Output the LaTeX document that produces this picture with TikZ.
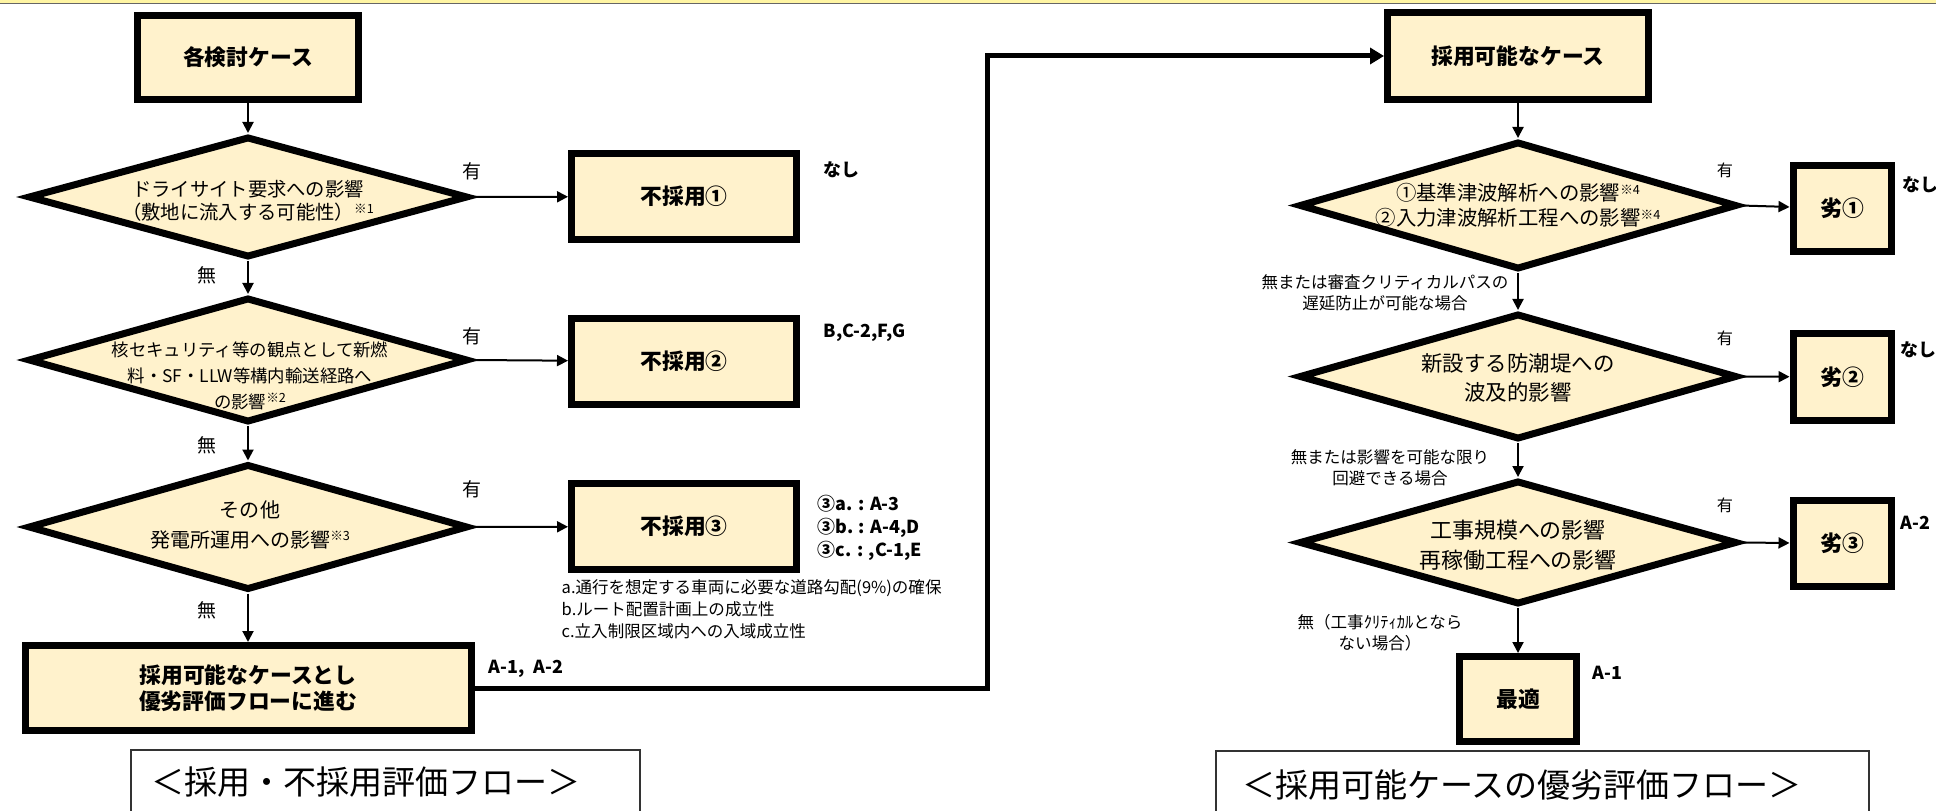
\documentclass[tikz,border=0pt]{standalone}
\usepackage{fontspec}
\setmainfont{Noto Sans CJK JP}
\usetikzlibrary{shapes.geometric,arrows.meta}
\definecolor{boxfill}{HTML}{FFF2CC}
\newcommand\chuki[1]{\raisebox{0.6ex}{\fontsize{3.6}{4}\selectfont ※#1}}

\begin{document}
\begin{tikzpicture}[x=0.1mm,y=-0.1mm,
  box/.style={draw,line width=0.7mm,fill=boxfill,inner sep=0pt,align=center,
    font=\bfseries\fontsize{6.2}{7.4}\selectfont},
  judge/.style={diamond,draw,line width=0.7mm,fill=boxfill,inner sep=0pt,minimum width=44mm},
  flow/.style={line width=0.2mm,-{Triangle[length=1.1mm,width=1.1mm]}},
  yes/.style={font=\fontsize{5.4}{6}\selectfont},
  memo/.style={anchor=west,align=left,inner sep=0pt,font=\bfseries\fontsize{5.1}{6.5}\selectfont},
  cond/.style={align=center,inner sep=0pt,font=\fontsize{4.7}{6}\selectfont},
  frame/.style={draw=black!80,line width=0.2mm}]
\useasboundingbox (0,0) rectangle (1936,811);

% top band
\fill[boxfill!80!yellow] (0,0) rectangle (1936,3);
\draw[black!60,line width=0.15mm] (0,3.5) -- (1936,3.5);

% left flow
\node[box,minimum width=22.1mm,minimum height=8.4mm] (case) at (248,57.5) {各検討ケース};
\node[judge,minimum height=12.1mm] (q1) at (248,197) {};
\node[align=center,font=\fontsize{5.5}{6.5}\selectfont] (q1t) at (248,201)
  {ドライサイト要求への影響\\（敷地に流入する可能性）\chuki{1}};
\node[judge,minimum height=12.5mm] (q2) at (248,360) {};
\node[align=center,font=\fontsize{4.95}{7.4}\selectfont] (q2t) at (250,376)
  {核セキュリティ等の観点として新燃\\料・SF・LLW等構内輸送経路へ\\の影響\chuki{2}};
\node[judge,minimum height=12.6mm] (q3) at (248,527) {};
\node[align=center,font=\fontsize{5.7}{8.5}\selectfont] (q3t) at (250,525)
  {その他\\発電所運用への影響\chuki{3}};
\node[box,minimum width=44.6mm,minimum height=8.5mm] (adopt) at (248,688)
  {採用可能なケースとし\\優劣評価フローに進む};

\node[box,minimum width=22.5mm,minimum height=8.6mm] (rej1) at (684,196.5) {不採用①};
\node[box,minimum width=22.5mm,minimum height=8.6mm] (rej2) at (684,361.5) {不採用②};
\node[box,minimum width=22.5mm,minimum height=8.6mm] (rej3) at (684,526.5) {不採用③};

\draw[flow] (case) -- (q1);
\draw[flow] (q1) -- (q2);
\draw[flow] (q2) -- (q3);
\draw[flow] (q3) -- (adopt);
\draw[flow] (q1.east) -- (rej1);
\draw[flow] (q2.east) -- (rej2);
\draw[flow] (q3.east) -- (rej3);

\node[yes] (y1) at (472,171) {有};
\node[yes] (y2) at (472,336) {有};
\node[yes] (y3) at (472,489) {有};
\node[yes] (n1) at (207,275) {無};
\node[yes] (n2) at (207,445) {無};
\node[yes] (n3) at (207,610) {無};

\node[memo] (m1) at (823,170) {なし};
\node[memo] (m2) at (823,333) {B,C-2,F,G};
\node[memo] (m3) at (817,528) {③a. : A-3\\③b. : A-4,D\\③c. : ,C-1,E};
\node[memo,font=\fontsize{4.7}{6.3}\selectfont] (abc) at (561,609)
  {a.通行を想定する車両に必要な道路勾配(9\%)の確保\\b.ルート配置計画上の成立性\\c.立入制限区域内への入域成立性};
\node[memo] (m4) at (488,669) {A-1,\enspace A-2};

% right flow
\node[box,minimum width=26.1mm,minimum height=8.7mm] (cands) at (1518,56) {採用可能なケース};
\node[judge,minimum width=43.8mm,minimum height=12.8mm] (r1) at (1518,205.5) {};
\node[align=center,font=\fontsize{5.8}{7.1}\selectfont] (r1t) at (1518,205.5)
  {①基準津波解析への影響\chuki{4}\\②入力津波解析工程への影響\chuki{4}};
\node[judge,minimum width=43.8mm,minimum height=12.6mm] (r2) at (1518,376.5) {};
\node[align=center,font=\fontsize{6.1}{8.25}\selectfont] (r2t) at (1518,377.5)
  {新設する防潮堤への\\波及的影響};
\node[judge,minimum width=43.8mm,minimum height=12.4mm] (r3) at (1518,542.5) {};
\node[align=center,font=\fontsize{6.25}{8.5}\selectfont] (r3t) at (1518,545)
  {工事規模への影響\\再稼働工程への影響};
\node[box,minimum width=11.7mm,minimum height=8.5mm] (best) at (1518,699) {最適};

\node[box,minimum width=9.8mm,minimum height=8.6mm] (w1) at (1842,208.5) {劣①};
\node[box,minimum width=9.8mm,minimum height=8.6mm] (w2) at (1842,377) {劣②};
\node[box,minimum width=9.8mm,minimum height=8.6mm] (w3) at (1842,543.5) {劣③};

% link to right flow
\coordinate (turn) at (987,300);
\draw[line width=0.5mm,-{Triangle[length=1.4mm,width=1.6mm]}] (adopt.east) -| (turn) |- (cands.west);

\draw[flow] (cands) -- (r1);
\draw[flow] (r1) -- (r2);
\draw[flow] (r2) -- (r3);
\draw[flow] (r3) -- (best);
\draw[flow] (r1.east) -- (w1);
\draw[flow] (r2.east) -- (w2);
\draw[flow] (r3.east) -- (w3);

\node[yes,font=\fontsize{4.6}{5}\selectfont] (ry1) at (1725,170) {有};
\node[yes,font=\fontsize{4.6}{5}\selectfont] (ry2) at (1725,338) {有};
\node[yes,font=\fontsize{4.6}{5}\selectfont] (ry3) at (1725,505) {有};
\node[cond] (rn1) at (1385,292.5) {無または審査クリティカルパスの\\遅延防止が可能な場合};
\node[cond] (rn2) at (1390,467.5) {無または影響を可能な限り\\回避できる場合};
\node[cond] (rn3) at (1380,632.5) {無（工事ｸﾘﾃｨｶﾙとなら\\ない場合）};

\node[memo] (rm1) at (1902,185) {なし};
\node[memo] (rm2) at (1900,350) {なし};
\node[memo] (rm3) at (1900,523) {A-2};
\node[memo] (rm4) at (1592,673) {A-1};

% titles
\draw[frame] (131,750) rectangle (640,830);
\node[font=\fontsize{9.4}{10}\selectfont] (title1) at (366,782) {＜採用・不採用評価フロー＞};
\draw[frame] (1216,751) rectangle (1869,830);
\node[font=\fontsize{9.4}{10}\selectfont] (title2) at (1522,785) {＜採用可能ケースの優劣評価フロー＞};
\end{tikzpicture}
\end{document}
